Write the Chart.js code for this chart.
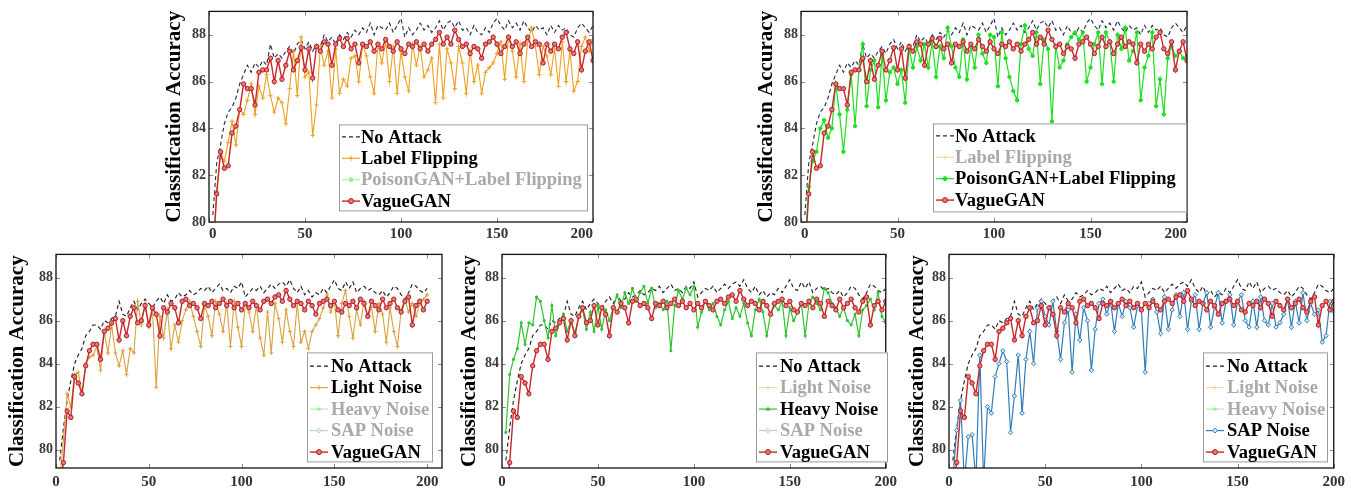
<!DOCTYPE html>
<html>
<head>
<meta charset="utf-8">
<script src="https://cdn.jsdelivr.net/npm/chart.js@4.4.0/dist/chart.umd.min.js"></script>
<style>
  body { margin: 0; background: #fff; width: 1351px; height: 491px; position: relative; overflow: hidden; }
  canvas { position: absolute; }
</style>
</head>
<body>
<canvas id="cA" width="445" height="246" style="left:162px;top:0px"></canvas>
<canvas id="cB" width="447" height="246" style="left:754px;top:0px"></canvas>
<canvas id="cC" width="451" height="248" style="left:5px;top:243px"></canvas>
<canvas id="cD" width="445" height="248" style="left:457px;top:243px"></canvas>
<canvas id="cE" width="445" height="248" style="left:905px;top:243px"></canvas>
<script>
// epochs (every 2nd epoch)
const epochs = [2,4,6,8,10,12,14,16,18,20,22,24,26,28,30,32,34,36,38,40,
  42,44,46,48,50,52,54,56,58,60,62,64,66,68,70,72,74,76,78,80,
  82,84,86,88,90,92,94,96,98,100,102,104,106,108,110,112,114,116,118,120,
  122,124,126,128,130,132,134,136,138,140,142,144,146,148,150,152,154,156,158,160,
  162,164,166,168,170,172,174,176,178,180,182,184,186,188,190,192,194,196,198,200];

// top row
const noAttackTop = [
  80.3, 82.5, 83.3, 84.2, 84.7, 84.9, 85.3, 85.9, 86.3, 86.7,
  86.4, 86.8, 86.6, 86.9, 86.7, 87.6, 87.0, 87.2, 87.0, 87.3,
  87.5, 87.2, 87.6, 87.8, 87.4, 87.7, 87.3, 87.6, 87.5, 88.0,
  87.7, 87.9, 87.6, 88.0, 87.8, 88.1, 87.9, 88.2, 88.0, 88.3,
  88.1, 88.5, 88.0, 88.4, 88.3, 88.2, 88.5, 88.1, 88.4, 88.7,
  87.9, 88.3, 88.0, 88.2, 88.5, 88.2, 88.4, 88.1, 88.3, 88.6,
  88.2, 88.5, 88.6, 88.3, 88.6, 88.2, 88.3, 88.0, 88.4, 88.1,
  88.0, 88.3, 88.1, 88.5, 88.7, 88.4, 88.2, 88.6, 88.3, 88.5,
  88.2, 88.6, 88.3, 88.1, 88.4, 88.2, 88.3, 88.0, 88.4, 88.1,
  88.4, 88.2, 88.3, 88.0, 87.9, 88.3, 88.5, 88.3, 88.1, 88.4
];
const vagueTop = [
  78.5, 81.2, 83.0, 82.3, 82.4, 83.8, 84.1, 84.8, 85.9, 85.7,
  85.7, 85.0, 86.4, 86.5, 86.5, 87.0, 86.0, 86.9, 86.1, 86.7,
  87.3, 86.5, 86.9, 87.45, 86.5, 87.4, 86.15, 87.5, 87.3, 87.7,
  87.6, 86.7, 87.6, 87.85, 87.5, 87.85, 87.4, 87.6, 86.8, 87.6,
  87.5, 87.7, 87.3, 87.6, 87.4, 87.8, 87.5, 87.3, 87.7, 87.4,
  87.2, 87.6, 87.5, 87.7, 87.4, 87.6, 87.3, 87.6, 87.8, 88.1,
  87.6, 87.9, 87.6, 88.2, 87.8, 87.5, 87.6, 87.2, 87.5, 87.4,
  87.0, 87.6, 87.7, 87.9, 87.6, 87.2, 87.5, 87.9, 87.5, 87.7,
  87.2, 87.6, 87.9, 87.5, 87.7, 87.6, 86.8, 87.6, 87.3, 87.6,
  87.4, 87.9, 88.1, 87.4, 87.2, 87.7, 86.5, 87.3, 87.7, 86.9
];
const labelFlipping = [
  78.5, 81.3, 82.9, 82.6, 83.4, 84.3, 83.3, 84.8, 84.6, 85.2,
  85.9, 84.6, 85.8, 85.3, 86.3, 85.4, 84.7, 85.3, 85.1, 84.2,
  85.7, 87.3, 85.4, 87.9, 86.2, 86.4, 83.7, 85.0, 87.5, 86.7,
  87.3, 85.3, 87.4, 85.5, 86.1, 85.8, 87.0, 87.1, 86.0, 87.6,
  87.1, 86.2, 85.5, 87.6, 86.8, 87.7, 86.0, 87.5, 85.5, 87.3,
  86.2, 85.6, 87.6, 86.7, 87.5, 86.2, 86.5, 87.0, 85.1, 87.6,
  85.3, 87.4, 86.8, 85.7, 87.5, 86.8, 85.5, 87.3, 86.0, 86.7,
  85.5, 86.4, 86.6, 86.8, 87.2, 87.7, 86.1, 87.9, 87.3, 86.2,
  87.6, 86.0, 87.7, 88.3, 87.5, 86.3, 87.5, 87.1, 86.3, 87.4,
  85.8, 87.7, 86.0, 87.3, 85.6, 86.0, 87.5, 87.9, 87.3, 87.8
];
const poisonGan = [
  79.0, 81.5, 82.6, 83.0, 84.0, 84.35, 83.6, 84.0, 85.9, 84.6,
  83.0, 84.8, 86.3, 84.1, 86.5, 87.6, 84.95, 86.5, 86.9, 84.9,
  87.15, 85.2, 86.4, 86.6, 85.9, 86.5, 85.1, 87.4, 86.6, 87.5,
  86.9, 87.6, 86.6, 87.7, 86.2, 87.5, 87.0, 88.3, 87.5, 86.6,
  86.2, 87.8, 86.1, 87.5, 86.6, 88.0, 87.2, 86.8, 88.0, 87.9,
  85.8, 88.1, 87.0, 86.2, 85.6, 85.2, 87.6, 88.4, 87.4, 87.1,
  88.1, 85.9, 87.8, 87.4, 84.3, 87.5, 86.6, 86.9, 87.6, 87.9,
  88.1, 87.8, 88.1, 86.0, 86.6, 87.6, 88.1, 85.9, 88.1, 87.7,
  86.0, 88.0, 87.4, 88.3, 86.9, 87.3, 88.1, 85.2, 86.6, 87.1,
  88.1, 84.95, 86.1, 84.6, 87.0, 87.5, 87.1, 87.3, 87.0, 87.1
];

// bottom row
const noAttackBottom = [
  79.5, 81.0, 82.3, 83.2, 84.0, 84.4, 84.7, 85.3, 85.5, 85.8,
  85.8, 85.6, 86.0, 85.9, 86.1, 86.2, 86.9, 86.3, 86.2, 86.6,
  86.9, 86.5, 86.8, 87.0, 86.8, 86.6, 86.9, 87.1, 86.8, 87.2,
  86.9, 87.0, 87.3, 87.1, 87.2, 87.4, 87.2, 87.3, 87.5, 87.4,
  87.6, 87.3, 87.5, 87.7, 87.4, 87.5, 87.3, 87.6, 87.5, 87.8,
  87.1, 87.3, 87.5, 87.4, 87.6, 87.3, 87.5, 87.7, 87.5, 87.7,
  87.8, 87.6, 87.9, 87.5, 87.3, 87.6, 87.2, 87.4, 87.1, 87.3,
  87.2, 87.5, 87.3, 87.6, 87.9, 87.5, 87.4, 87.8, 87.5, 87.8,
  87.3, 87.5, 87.6, 87.4, 87.5, 87.3, 87.2, 87.4, 87.1, 87.3,
  87.6, 87.5, 87.2, 87.0, 87.3, 87.7, 87.6, 87.4, 87.3, 87.5
];
const vagueBottom = [
  78.0, 79.4, 81.8, 81.5, 83.4, 83.1, 82.6, 83.9, 84.6, 84.9,
  84.9, 84.2, 85.5, 85.65, 85.9, 86.1, 85.1, 86.0, 85.3, 86.2,
  86.6, 85.9, 86.0, 86.7, 85.8, 86.6, 86.3, 85.3, 86.6, 86.4,
  86.8, 86.6, 85.9, 86.9, 87.0, 86.7, 86.8, 86.6, 86.1, 86.8,
  86.7, 86.9, 86.6, 86.8, 87.0, 86.7, 86.9, 86.6, 86.8, 86.5,
  86.8, 86.6, 86.9, 86.7, 86.5, 86.9, 87.0, 86.8, 87.1, 87.2,
  86.9, 87.4, 87.0, 86.7, 86.9, 86.8, 86.5, 86.9, 86.7, 86.3,
  86.8, 86.9, 87.0, 86.7, 86.9, 86.5, 86.4, 86.8, 86.7, 86.9,
  86.6, 87.0, 86.8, 86.2, 86.9, 86.7, 86.5, 87.0, 86.6, 86.8,
  87.0, 86.6, 86.4, 86.9, 87.1, 85.8, 86.7, 86.9, 86.5, 86.9
];
const lightNoise = [
  78.5, 80.5, 82.6, 82.0, 83.5, 83.6, 82.6, 84.0, 84.3, 84.4,
  84.8, 83.7, 85.5, 84.5, 85.8, 84.5, 83.9, 84.6, 83.5, 84.7,
  84.5, 86.9, 85.8, 86.8, 85.7, 86.5, 82.9, 86.2, 85.2, 86.5,
  84.7, 85.8, 85.0, 86.0, 86.5, 86.9, 86.2, 85.5, 84.8, 86.7,
  86.2, 85.3, 86.9, 86.3, 85.5, 86.8, 84.8, 86.9, 85.7, 84.8,
  86.8, 86.4, 85.5, 86.7, 85.2, 84.4, 86.4, 84.5, 86.8, 86.1,
  85.0, 86.5, 85.5, 84.8, 86.8, 85.0, 85.5, 84.7, 85.5, 85.8,
  86.1, 86.6, 87.2, 86.4, 86.9, 85.3, 86.8, 87.4, 86.2, 85.2,
  86.5, 85.8, 86.9, 86.2, 86.6, 85.5, 86.8, 86.3, 85.0, 86.6,
  85.5, 84.8, 86.5, 87.0, 86.4, 86.8, 86.2, 86.8, 87.0, 87.2
];
const heavyNoise = [
  80.8, 83.5, 84.2, 84.7, 85.9, 84.9, 85.9, 85.8, 87.1, 86.9,
  86.0, 85.2, 86.7, 85.3, 85.9, 86.3, 85.5, 86.0, 85.4, 86.2,
  86.5, 85.6, 86.4, 85.5, 86.7, 85.6, 86.5, 86.0, 86.6, 87.2,
  86.6, 87.3, 86.8, 87.5, 86.9, 87.3, 87.6, 86.8, 87.5, 86.6,
  86.8, 86.5, 86.9, 84.6, 86.7, 87.4, 87.0, 87.5, 87.2, 87.6,
  85.7, 86.4, 86.9, 86.5, 86.8, 86.2, 85.8, 86.5, 86.9, 86.1,
  86.6, 86.2, 86.8, 85.9, 85.3, 86.5, 87.0, 86.4, 85.3, 86.3,
  86.7, 86.5, 86.9, 85.3, 86.6, 86.0, 86.4, 86.8, 85.3, 86.8,
  87.1, 86.8, 86.5, 87.5, 87.3, 86.8, 86.6, 86.2, 86.6, 86.0,
  85.8, 86.3, 85.3, 86.5, 86.7, 87.0, 86.5, 87.3, 86.2, 85.9
];
const sapNoise = [
  78.6, 80.9, 82.3, 78.5, 80.6, 80.7, 78.5, 84.4, 78.5, 82.0,
  81.7, 83.4, 84.0, 84.6, 84.1, 80.8, 82.5, 84.4, 81.7, 84.2,
  85.5, 84.0, 86.6, 86.9, 86.2, 85.8, 86.9, 85.5, 84.2, 85.9,
  86.5, 83.6, 86.3, 85.1, 86.6, 86.0, 83.7, 85.6, 86.8, 87.0,
  86.3, 86.9, 85.5, 86.8, 86.2, 86.9, 86.6, 85.7, 86.7, 86.5,
  83.6, 86.8, 87.0, 86.4, 85.4, 87.1, 85.6, 86.5, 87.2, 86.2,
  87.3, 85.6, 86.9, 87.2, 85.6, 86.8, 87.3, 85.7, 86.6, 87.3,
  85.9, 86.9, 87.2, 85.8, 86.9, 87.2, 86.0, 85.7, 86.9, 85.7,
  87.1, 86.0, 85.8, 86.8, 85.7, 85.9, 86.3, 87.0, 85.7, 86.9,
  85.9, 87.3, 86.0, 86.8, 86.3, 86.5, 85.0, 85.3, 86.9, 86.4
];

Chart.defaults.font.family = '"Liberation Serif", "Times New Roman", serif';
Chart.defaults.font.weight = 'bold';

const ST = {
  naTop:  { color: '#1d2a4a', width: 1.1, dash: [4, 3] },
  naBot:  { color: '#1a1a1a', width: 1.1, dash: [4, 3] },
  vague:  { color: '#c8262a', width: 1.4, point: 'circle', radius: 2.2, fill: '#e27a7a', edge: '#b3191e' },
  flip:   { color: '#f0a020', width: 1.1, point: 'cross', radius: 2.2 },
  poison: { color: '#1ee01e', width: 1.2, point: 'circle', radius: 1.7 },
  light:  { color: '#d9a13c', width: 1.1, point: 'cross', radius: 2 },
  heavy:  { color: '#2fc42f', width: 1.2, point: 'rect', radius: 1.3 },
  sap:    { color: '#2f7db8', width: 1.2, point: 'rectRot', radius: 2.2, fill: '#d6e8f5' },
  flipG:   { color: '#f8d2a4', width: 1.1, point: 'cross', radius: 2.2, gray: true },
  poisonG: { color: '#9cee9c', width: 1.1, point: 'circle', radius: 1.7, gray: true },
  lightG:  { color: '#f3d0a6', width: 1.1, point: 'cross', radius: 2, gray: true },
  heavyG:  { color: '#a6eca6', width: 1.1, point: 'rect', radius: 1.3, gray: true },
  sapG:    { color: '#a9cdea', width: 1.1, point: 'rectRot', radius: 2, fill: '#e6f0f8', gray: true }
};

function ds(label, data, st, order) {
  return {
    label, data, order,
    borderColor: st.color, borderWidth: st.width, borderDash: st.dash || [],
    pointStyle: st.point || false, pointRadius: st.point ? st.radius : 0,
    pointBorderColor: st.edge || st.color, pointBackgroundColor: st.fill || st.color,
    pointBorderWidth: 1, tension: 0, fill: false
  };
}

// frame, inner tick marks and the boxed legend inside the plot
const panelDeco = {
  id: 'panelDeco',
  afterDatasetsDraw(chart, args, opts) {
    const { ctx, chartArea: a, scales } = chart;
    ctx.save();
    ctx.strokeStyle = '#8a8a8a';
    ctx.lineWidth = 1;
    ctx.beginPath();
    scales.x.ticks.forEach(t => {
      const px = Math.round(scales.x.getPixelForValue(t.value)) + 0.5;
      ctx.moveTo(px, a.bottom); ctx.lineTo(px, a.bottom - 4);
      ctx.moveTo(px, a.top); ctx.lineTo(px, a.top + 4);
    });
    scales.y.ticks.forEach(t => {
      const py = Math.round(scales.y.getPixelForValue(t.value)) + 0.5;
      ctx.moveTo(a.left, py); ctx.lineTo(a.left + 4, py);
      ctx.moveTo(a.right, py); ctx.lineTo(a.right - 4, py);
    });
    ctx.stroke();
    ctx.strokeStyle = '#111';
    ctx.lineWidth = 1.3;
    ctx.strokeRect(a.left, a.top, a.right - a.left, a.bottom - a.top);

    const bx = a.left + opts.x, by = a.top + opts.y;
    ctx.fillStyle = '#fff';
    ctx.fillRect(bx, by, opts.w, opts.h);
    ctx.strokeStyle = '#9a9a9a';
    ctx.lineWidth = 1;
    ctx.strokeRect(bx + 0.5, by + 0.5, opts.w - 1, opts.h - 1);
    ctx.font = 'bold 18.5px "Liberation Serif"';
    ctx.textBaseline = 'middle';
    ctx.textAlign = 'left';
    opts.items.forEach((it, i) => {
      const st = it.st;
      const cy = by + opts.first + i * opts.step;
      ctx.strokeStyle = st.color;
      ctx.lineWidth = st.width;
      ctx.setLineDash(st.dash || []);
      ctx.beginPath();
      ctx.moveTo(bx + 3, cy); ctx.lineTo(bx + 21, cy);
      ctx.stroke();
      ctx.setLineDash([]);
      if (st.point) {
        ctx.fillStyle = st.fill || st.color;
        ctx.strokeStyle = st.edge || st.color;
        ctx.lineWidth = 1;
        Chart.helpers.drawPoint(ctx, { pointStyle: st.point, radius: st.radius + 0.3, rotation: 0, borderWidth: 1 }, bx + 12, cy);
      }
      ctx.fillStyle = st.gray ? '#a9a9a9' : '#000';
      ctx.fillText(it.label, bx + opts.textX, cy + 1);
    });
    ctx.restore();
  }
};

function makePanel(id, p) {
  new Chart(document.getElementById(id), {
    type: 'line',
    data: { labels: epochs, datasets: p.datasets },
    options: {
      responsive: false,
      animation: false,
      layout: { padding: { top: 10, right: 14, left: 0, bottom: 0 } },
      plugins: { legend: { display: false }, tooltip: { enabled: false }, panelDeco: p.legend },
      scales: {
        x: {
          type: 'linear', min: 0, max: p.xMax,
          grid: { display: false, drawTicks: false }, border: { display: false },
          ticks: { stepSize: 50, includeBounds: false, align: p.xAlign, padding: p.xPad, maxRotation: 0,
                   color: '#333', font: { size: 15, weight: 'bold' } },
          afterFit: s => { s.height = p.xh; }
        },
        y: {
          min: p.yMin, max: p.yMax,
          grid: { display: false, drawTicks: false }, border: { display: false },
          ticks: { stepSize: 2, includeBounds: false, padding: 3, color: '#3a3a3a', font: { size: 14, weight: 'bold' } },
          title: { display: true, text: 'Classification Accuracy', color: '#000', padding: 0,
                   font: { size: 21, weight: 'bold' } },
          afterFit: s => { s.width = p.yw; }
        }
      }
    },
    plugins: [panelDeco]
  });
}

const topLegend = { x: 130, y: 113, w: 249, h: 87, first: 12.5, step: 21.4, textX: 22 };
const botLegend = { y: 98, h: 110, first: 13.7, step: 21.5, textX: 24 };

makePanel('cA', {
  xMax: 200, xAlign: 'inner', xPad: 3, xh: 24, yMin: 80, yMax: 89, yw: 47,
  datasets: [
    ds('No Attack', noAttackTop, ST.naTop, 3),
    ds('Label Flipping', labelFlipping, ST.flip, 2),
    ds('VagueGAN', vagueTop, ST.vague, 1)
  ],
  legend: Object.assign({}, topLegend, { items: [
    { label: 'No Attack', st: ST.naTop },
    { label: 'Label Flipping', st: ST.flip },
    { label: 'PoisonGAN+Label Flipping', st: ST.poisonG },
    { label: 'VagueGAN', st: ST.vague }
  ] })
});

makePanel('cB', {
  xMax: 200, xAlign: 'inner', xPad: 3, xh: 24, yMin: 80, yMax: 89, yw: 47,
  datasets: [
    ds('No Attack', noAttackTop, ST.naTop, 3),
    ds('PoisonGAN+Label Flipping', poisonGan, ST.poison, 2),
    ds('VagueGAN', vagueTop, ST.vague, 1)
  ],
  legend: Object.assign({}, topLegend, { x: 132, y: 112, w: 254, h: 89, items: [
    { label: 'No Attack', st: ST.naTop },
    { label: 'Label Flipping', st: ST.flipG },
    { label: 'PoisonGAN+Label Flipping', st: ST.poison },
    { label: 'VagueGAN', st: ST.vague }
  ] })
});

function bottomItems(active) {
  return [
    { label: 'No Attack', st: ST.naBot },
    { label: 'Light Noise', st: active === 'light' ? ST.light : ST.lightG },
    { label: 'Heavy Noise', st: active === 'heavy' ? ST.heavy : ST.heavyG },
    { label: 'SAP Noise', st: active === 'sap' ? ST.sap : ST.sapG },
    { label: 'VagueGAN', st: ST.vague }
  ];
}

makePanel('cC', {
  xMax: 208, xAlign: 'center', xPad: 5, xh: 23, yMin: 79.15, yMax: 89.08, yw: 51,
  datasets: [
    ds('No Attack', noAttackBottom, ST.naBot, 3),
    ds('Light Noise', lightNoise, ST.light, 2),
    ds('VagueGAN', vagueBottom, ST.vague, 1)
  ],
  legend: Object.assign({}, botLegend, { x: 251, w: 126, items: bottomItems('light') })
});

makePanel('cD', {
  xMax: 200, xAlign: 'center', xPad: 5, xh: 23, yMin: 79.15, yMax: 89.08, yw: 45,
  datasets: [
    ds('No Attack', noAttackBottom, ST.naBot, 3),
    ds('Heavy Noise', heavyNoise, ST.heavy, 2),
    ds('VagueGAN', vagueBottom, ST.vague, 1)
  ],
  legend: Object.assign({}, botLegend, { x: 254, w: 132, items: bottomItems('heavy') })
});

makePanel('cE', {
  xMax: 200, xAlign: 'center', xPad: 5, xh: 23, yMin: 79.15, yMax: 89.08, yw: 44,
  datasets: [
    ds('No Attack', noAttackBottom, ST.naBot, 3),
    ds('SAP Noise', sapNoise, ST.sap, 2),
    ds('VagueGAN', vagueBottom, ST.vague, 1)
  ],
  legend: Object.assign({}, botLegend, { x: 254, w: 125, items: bottomItems('sap') })
});
</script>
</body>
</html>
